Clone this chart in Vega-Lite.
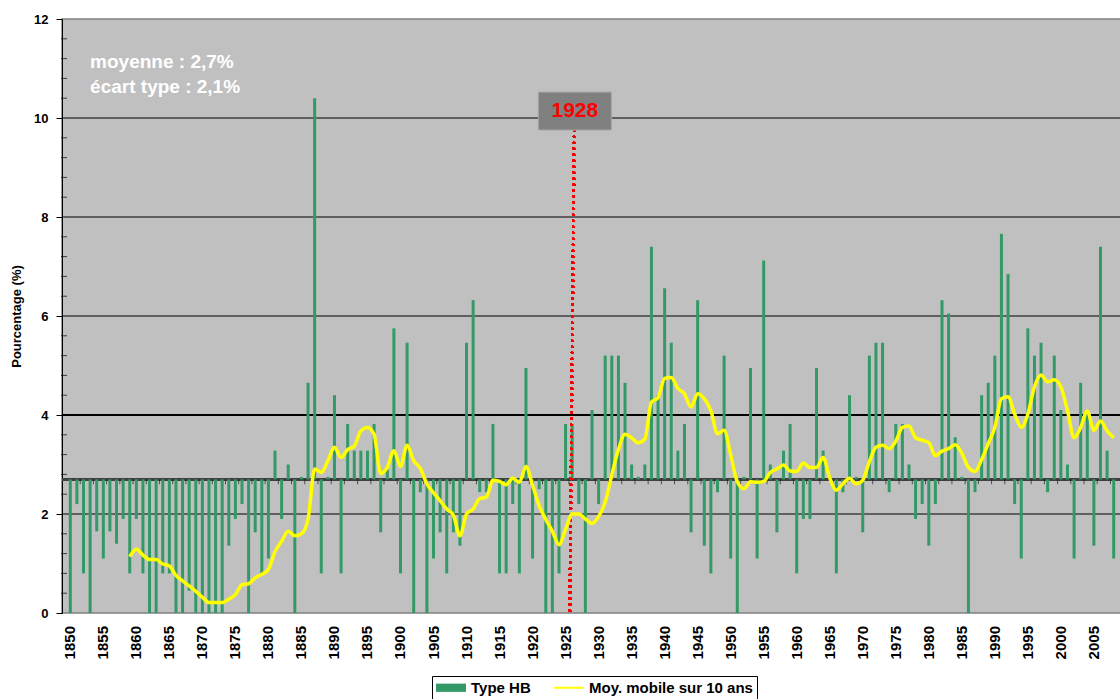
{
  "$schema": "https://vega.github.io/schema/vega-lite/v6.json",
  "width": 1060,
  "height": 594,
  "padding": {"left": 10, "top": 13, "right": 0, "bottom": 0},
  "background": "white",
  "config": {
    "font": "Liberation Sans",
    "view": {"fill": "#C0C0C0", "stroke": "#808080", "strokeWidth": 1.5}
  },
  "datasets": {
    "hb": [
      {"year":1850,"value":0},{"year":1851,"value":2.2},{"year":1852,"value":0.8},{"year":1853,"value":0},{"year":1854,"value":1.65},
      {"year":1855,"value":1.1},{"year":1856,"value":1.65},{"year":1857,"value":1.4},{"year":1858,"value":1.9},{"year":1859,"value":0.8},
      {"year":1860,"value":1.9},{"year":1861,"value":0.8},{"year":1862,"value":0},{"year":1863,"value":0},{"year":1864,"value":0.8},
      {"year":1865,"value":0.8},{"year":1866,"value":0},{"year":1867,"value":0},{"year":1868,"value":0.45},{"year":1869,"value":0},
      {"year":1870,"value":0},{"year":1871,"value":0},{"year":1872,"value":0},{"year":1873,"value":0},{"year":1874,"value":1.36},
      {"year":1875,"value":1.9},{"year":1876,"value":2.2},{"year":1877,"value":0},{"year":1878,"value":1.63},{"year":1879,"value":0.8},
      {"year":1880,"value":1.1},{"year":1881,"value":3.28},{"year":1882,"value":1.9},{"year":1883,"value":3.0},{"year":1884,"value":0},
      {"year":1885,"value":2.75},{"year":1886,"value":4.65},{"year":1887,"value":10.4},{"year":1888,"value":0.8},{"year":1889,"value":2.75},
      {"year":1890,"value":4.4},{"year":1891,"value":0.8},{"year":1892,"value":3.82},{"year":1893,"value":3.28},{"year":1894,"value":3.28},
      {"year":1895,"value":3.28},{"year":1896,"value":3.82},{"year":1897,"value":1.63},{"year":1898,"value":2.9},{"year":1899,"value":5.75},
      {"year":1900,"value":0.8},{"year":1901,"value":5.46},{"year":1902,"value":0},{"year":1903,"value":2.44},{"year":1904,"value":0},
      {"year":1905,"value":1.1},{"year":1906,"value":1.63},{"year":1907,"value":0.8},{"year":1908,"value":1.63},{"year":1909,"value":1.36},
      {"year":1910,"value":5.46},{"year":1911,"value":6.32},{"year":1912,"value":2.44},{"year":1913,"value":2.44},{"year":1914,"value":3.82},
      {"year":1915,"value":0.8},{"year":1916,"value":0.8},{"year":1917,"value":2.2},{"year":1918,"value":0.8},{"year":1919,"value":4.95},
      {"year":1920,"value":1.1},{"year":1921,"value":2.5},{"year":1922,"value":0},{"year":1923,"value":0},{"year":1924,"value":0.8},
      {"year":1925,"value":3.82},{"year":1926,"value":3.82},{"year":1927,"value":2.2},{"year":1928,"value":0},{"year":1929,"value":4.1},
      {"year":1930,"value":2.2},{"year":1931,"value":5.2},{"year":1932,"value":5.2},{"year":1933,"value":5.2},{"year":1934,"value":4.65},
      {"year":1935,"value":3.0},{"year":1936,"value":2.75},{"year":1937,"value":3.0},{"year":1938,"value":7.4},{"year":1939,"value":4.4},
      {"year":1940,"value":6.56},{"year":1941,"value":5.46},{"year":1942,"value":3.28},{"year":1943,"value":3.82},{"year":1944,"value":1.63},
      {"year":1945,"value":6.32},{"year":1946,"value":1.36},{"year":1947,"value":0.8},{"year":1948,"value":2.44},{"year":1949,"value":5.2},
      {"year":1950,"value":1.1},{"year":1951,"value":0},{"year":1952,"value":2.75},{"year":1953,"value":4.95},{"year":1954,"value":1.1},
      {"year":1955,"value":7.12},{"year":1956,"value":3.0},{"year":1957,"value":1.63},{"year":1958,"value":3.28},{"year":1959,"value":3.82},
      {"year":1960,"value":0.8},{"year":1961,"value":1.9},{"year":1962,"value":1.9},{"year":1963,"value":4.95},{"year":1964,"value":3.28},
      {"year":1965,"value":2.75},{"year":1966,"value":0.8},{"year":1967,"value":2.44},{"year":1968,"value":4.4},{"year":1969,"value":2.75},
      {"year":1970,"value":1.63},{"year":1971,"value":5.2},{"year":1972,"value":5.46},{"year":1973,"value":5.46},{"year":1974,"value":2.44},
      {"year":1975,"value":3.82},{"year":1976,"value":3.82},{"year":1977,"value":3.0},{"year":1978,"value":1.9},{"year":1979,"value":2.2},
      {"year":1980,"value":1.36},{"year":1981,"value":2.2},{"year":1982,"value":6.32},{"year":1983,"value":6.05},{"year":1984,"value":3.55},
      {"year":1985,"value":2.75},{"year":1986,"value":0},{"year":1987,"value":2.44},{"year":1988,"value":4.4},{"year":1989,"value":4.65},
      {"year":1990,"value":5.2},{"year":1991,"value":7.66},{"year":1992,"value":6.85},{"year":1993,"value":2.2},{"year":1994,"value":1.1},
      {"year":1995,"value":5.75},{"year":1996,"value":5.2},{"year":1997,"value":5.46},{"year":1998,"value":2.44},{"year":1999,"value":5.2},
      {"year":2000,"value":4.1},{"year":2001,"value":3.0},{"year":2002,"value":1.1},{"year":2003,"value":4.65},{"year":2004,"value":4.1},
      {"year":2005,"value":1.36},{"year":2006,"value":7.4},{"year":2007,"value":3.28},{"year":2008,"value":1.1}
    ],
    "ma": [
      {"year":1859,"ma":1.14},{"year":1860,"ma":1.29},{"year":1861,"ma":1.17},{"year":1862,"ma":1.08},{"year":1863,"ma":1.08},
      {"year":1864,"ma":0.99},{"year":1865,"ma":0.95},{"year":1866,"ma":0.76},{"year":1867,"ma":0.65},{"year":1868,"ma":0.55},
      {"year":1869,"ma":0.44},{"year":1870,"ma":0.32},{"year":1871,"ma":0.21},{"year":1872,"ma":0.21},{"year":1873,"ma":0.21},
      {"year":1874,"ma":0.28},{"year":1875,"ma":0.37},{"year":1876,"ma":0.57},{"year":1877,"ma":0.59},{"year":1878,"ma":0.71},
      {"year":1879,"ma":0.78},{"year":1880,"ma":0.88},{"year":1881,"ma":1.24},{"year":1882,"ma":1.45},{"year":1883,"ma":1.65},
      {"year":1884,"ma":1.56},{"year":1885,"ma":1.6},{"year":1886,"ma":1.89},{"year":1887,"ma":2.91},{"year":1888,"ma":2.84},
      {"year":1889,"ma":3.07},{"year":1890,"ma":3.35},{"year":1891,"ma":3.14},{"year":1892,"ma":3.3},{"year":1893,"ma":3.37},
      {"year":1894,"ma":3.68},{"year":1895,"ma":3.75},{"year":1896,"ma":3.61},{"year":1897,"ma":2.82},{"year":1898,"ma":2.94},
      {"year":1899,"ma":3.28},{"year":1900,"ma":2.96},{"year":1901,"ma":3.39},{"year":1902,"ma":3.08},{"year":1903,"ma":2.92},
      {"year":1904,"ma":2.61},{"year":1905,"ma":2.43},{"year":1906,"ma":2.27},{"year":1907,"ma":2.1},{"year":1908,"ma":1.98},
      {"year":1909,"ma":1.56},{"year":1910,"ma":2.0},{"year":1911,"ma":2.1},{"year":1912,"ma":2.31},{"year":1913,"ma":2.34},
      {"year":1914,"ma":2.68},{"year":1915,"ma":2.66},{"year":1916,"ma":2.59},{"year":1917,"ma":2.72},{"year":1918,"ma":2.64},
      {"year":1919,"ma":2.96},{"year":1920,"ma":2.58},{"year":1921,"ma":2.17},{"year":1922,"ma":1.89},{"year":1923,"ma":1.65},
      {"year":1924,"ma":1.38},{"year":1925,"ma":1.69},{"year":1926,"ma":2.0},{"year":1927,"ma":2.0},{"year":1928,"ma":1.9},
      {"year":1929,"ma":1.81},{"year":1930,"ma":1.95},{"year":1931,"ma":2.24},{"year":1932,"ma":2.79},{"year":1933,"ma":3.3},
      {"year":1934,"ma":3.61},{"year":1935,"ma":3.54},{"year":1936,"ma":3.44},{"year":1937,"ma":3.51},{"year":1938,"ma":4.26},
      {"year":1939,"ma":4.35},{"year":1940,"ma":4.74},{"year":1941,"ma":4.76},{"year":1942,"ma":4.54},{"year":1943,"ma":4.43},
      {"year":1944,"ma":4.16},{"year":1945,"ma":4.43},{"year":1946,"ma":4.33},{"year":1947,"ma":4.09},{"year":1948,"ma":3.62},
      {"year":1949,"ma":3.69},{"year":1950,"ma":3.2},{"year":1951,"ma":2.65},{"year":1952,"ma":2.51},{"year":1953,"ma":2.65},
      {"year":1954,"ma":2.64},{"year":1955,"ma":2.66},{"year":1956,"ma":2.84},{"year":1957,"ma":2.91},{"year":1958,"ma":2.99},
      {"year":1959,"ma":2.87},{"year":1960,"ma":2.86},{"year":1961,"ma":3.03},{"year":1962,"ma":2.94},{"year":1963,"ma":2.94},
      {"year":1964,"ma":3.14},{"year":1965,"ma":2.73},{"year":1966,"ma":2.48},{"year":1967,"ma":2.61},{"year":1968,"ma":2.72},
      {"year":1969,"ma":2.61},{"year":1970,"ma":2.68},{"year":1971,"ma":3.06},{"year":1972,"ma":3.35},{"year":1973,"ma":3.39},
      {"year":1974,"ma":3.32},{"year":1975,"ma":3.47},{"year":1976,"ma":3.75},{"year":1977,"ma":3.78},{"year":1978,"ma":3.54},
      {"year":1979,"ma":3.49},{"year":1980,"ma":3.44},{"year":1981,"ma":3.18},{"year":1982,"ma":3.27},{"year":1983,"ma":3.32},
      {"year":1984,"ma":3.4},{"year":1985,"ma":3.23},{"year":1986,"ma":2.94},{"year":1987,"ma":2.86},{"year":1988,"ma":3.1},
      {"year":1989,"ma":3.42},{"year":1990,"ma":3.75},{"year":1991,"ma":4.33},{"year":1992,"ma":4.37},{"year":1993,"ma":4.02},
      {"year":1994,"ma":3.75},{"year":1995,"ma":4.02},{"year":1996,"ma":4.57},{"year":1997,"ma":4.81},{"year":1998,"ma":4.67},
      {"year":1999,"ma":4.71},{"year":2000,"ma":4.57},{"year":2001,"ma":4.09},{"year":2002,"ma":3.54},{"year":2003,"ma":3.75},
      {"year":2004,"ma":4.08},{"year":2005,"ma":3.69},{"year":2006,"ma":3.88},{"year":2007,"ma":3.68},{"year":2008,"ma":3.54}
    ],
    "grid": [{"g": 2}, {"g": 6}, {"g": 8}, {"g": 10}],
    "minor": [
      {"m":0.4},{"m":0.8},{"m":1.2},{"m":1.6},{"m":2.4},{"m":2.8},{"m":3.2},{"m":3.6},{"m":4.4},{"m":4.8},
      {"m":5.2},{"m":5.6},{"m":6.4},{"m":6.8},{"m":7.2},{"m":7.6},{"m":8.4},{"m":8.8},{"m":9.2},{"m":9.6},
      {"m":10.4},{"m":10.8},{"m":11.2},{"m":11.6}
    ]
  },
  "layer": [
    {
      "data": {"name": "grid"},
      "mark": {"type": "rule", "color": "black", "strokeWidth": 1},
      "encoding": {
        "y": {
          "field": "g", "type": "quantitative",
          "scale": {"domain": [0, 12], "nice": false},
          "axis": {
            "title": "Pourcentage (%)",
            "titleFontSize": 13,
            "titleFontWeight": "bold",
            "titleColor": "black",
            "titlePadding": 10,
            "values": [0, 2, 4, 6, 8, 10, 12],
            "labelFontSize": 13,
            "labelFontWeight": "bold",
            "labelColor": "black",
            "labelPadding": 8,
            "labelOverlap": false,
            "tickSize": 6,
            "tickColor": "black",
            "domainColor": "black",
            "grid": false
          }
        }
      }
    },
    {
      "data": {"name": "minor"},
      "mark": {"type": "tick", "orient": "horizontal", "size": 6, "thickness": 1, "color": "black", "xOffset": -3, "clip": false},
      "encoding": {
        "x": {
          "datum": 1849.5,
          "scale": {"domain": [1849.5, 2008.5], "nice": false, "zero": false},
          "axis": {"title": null, "labels": false, "ticks": false, "domain": false, "grid": false}
        },
        "y": {"field": "m", "type": "quantitative"}
      }
    },
    {
      "data": {"name": "grid"},
      "mark": {"type": "rule", "color": "black", "strokeWidth": 2},
      "encoding": {"y": {"datum": 4}}
    },
    {
      "data": {"name": "hb"},
      "mark": {"type": "rule", "color": "#404040", "strokeWidth": 2},
      "encoding": {"y": {"datum": 2.7}}
    },
    {
      "data": {"name": "hb"},
      "mark": {"type": "bar", "width": 3},
      "encoding": {
        "x": {"field": "year", "type": "quantitative"},
        "y": {"field": "value", "type": "quantitative"},
        "y2": {"datum": 2.7},
        "color": {
          "datum": "Type HB",
          "type": "nominal",
          "scale": {"domain": ["Type HB", "Moy. mobile sur 10 ans"], "range": ["#339966", "#FFFF00"]},
          "legend": {
            "title": null,
            "orient": "none",
            "legendX": 370,
            "legendY": 657,
            "direction": "horizontal",
            "strokeColor": "black",
            "fillColor": "white",
            "padding": 4,
            "symbolSize": 225,
            "columnPadding": 23,
            "labelOffset": 20,
            "labelLimit": 400,
            "labelFontSize": 15,
            "labelFontWeight": "bold",
            "labelColor": "black",
            "encode": {
              "symbols": {
                "update": {
                  "shape": {"signal": "datum.value === 'Type HB' ? 'M-1,-0.55H3V0.55H-1Z' : 'M-1,-0.13H3V0.13H-1Z'"},
                  "fill": {"signal": "datum.value === 'Type HB' ? '#339966' : '#FFFF00'"},
                  "stroke": {"value": "transparent"},
                  "strokeWidth": {"value": 0},
                  "opacity": {"value": 1},
                  "fillOpacity": {"value": 1}
                }
              }
            }
          }
        }
      }
    },
    {
      "data": {"name": "hb"},
      "transform": [{"filter": "datum.year % 5 == 0"}],
      "mark": {"type": "text", "angle": 270, "align": "right", "baseline": "middle", "fontSize": 15, "fontWeight": "bold", "color": "black", "yOffset": 13},
      "encoding": {
        "x": {"field": "year", "type": "quantitative"},
        "y": {"datum": 0},
        "text": {"field": "year", "type": "quantitative", "format": "d"}
      }
    },
    {
      "data": {"name": "hb"},
      "transform": [{"filter": "datum.year % 2 == 1"}],
      "mark": {"type": "tick", "orient": "vertical", "size": 5, "thickness": 1, "color": "#202020", "xOffset": 3.33, "yOffset": 2.5},
      "encoding": {
        "x": {"field": "year", "type": "quantitative"},
        "y": {"datum": 2.7}
      }
    },
    {
      "data": {"name": "hb"},
      "mark": {"type": "rule", "color": "#FF0000", "strokeWidth": 2.5, "strokeDash": [2, 4]},
      "encoding": {
        "x": {"datum": 1926.32},
        "x2": {"datum": 1925.64},
        "y": {"datum": 9.76},
        "y2": {"datum": 0}
      }
    },
    {
      "data": {"name": "ma"},
      "mark": {"type": "line", "strokeWidth": 3.5, "interpolate": "monotone"},
      "encoding": {
        "x": {"field": "year", "type": "quantitative"},
        "y": {"field": "ma", "type": "quantitative"},
        "color": {"datum": "Moy. mobile sur 10 ans", "type": "nominal"}
      }
    },
    {
      "data": {"values": [{}]},
      "mark": {"type": "point", "shape": "M-1,-0.52H1V0.52H-1Z", "size": 5329, "filled": true, "fill": "#808080", "stroke": "#A8A8A8", "strokeWidth": 1, "opacity": 1},
      "encoding": {
        "x": {"datum": 1926.4},
        "y": {"datum": 10.14}
      }
    },
    {
      "data": {"values": [{}]},
      "mark": {"type": "text", "text": "1928", "fontSize": 21, "fontWeight": "bold", "color": "#FF0000", "align": "center", "baseline": "middle"},
      "encoding": {
        "x": {"datum": 1926.4},
        "y": {"datum": 10.14}
      }
    },
    {
      "data": {"values": [{}]},
      "mark": {"type": "text", "text": ["moyenne : 2,7%", "écart type : 2,1%"], "fontSize": 19, "fontWeight": "bold", "lineHeight": 25, "color": "white", "align": "left", "baseline": "middle"},
      "encoding": {
        "x": {"datum": 1853.0},
        "y": {"datum": 11.14}
      }
    }
  ]
}
